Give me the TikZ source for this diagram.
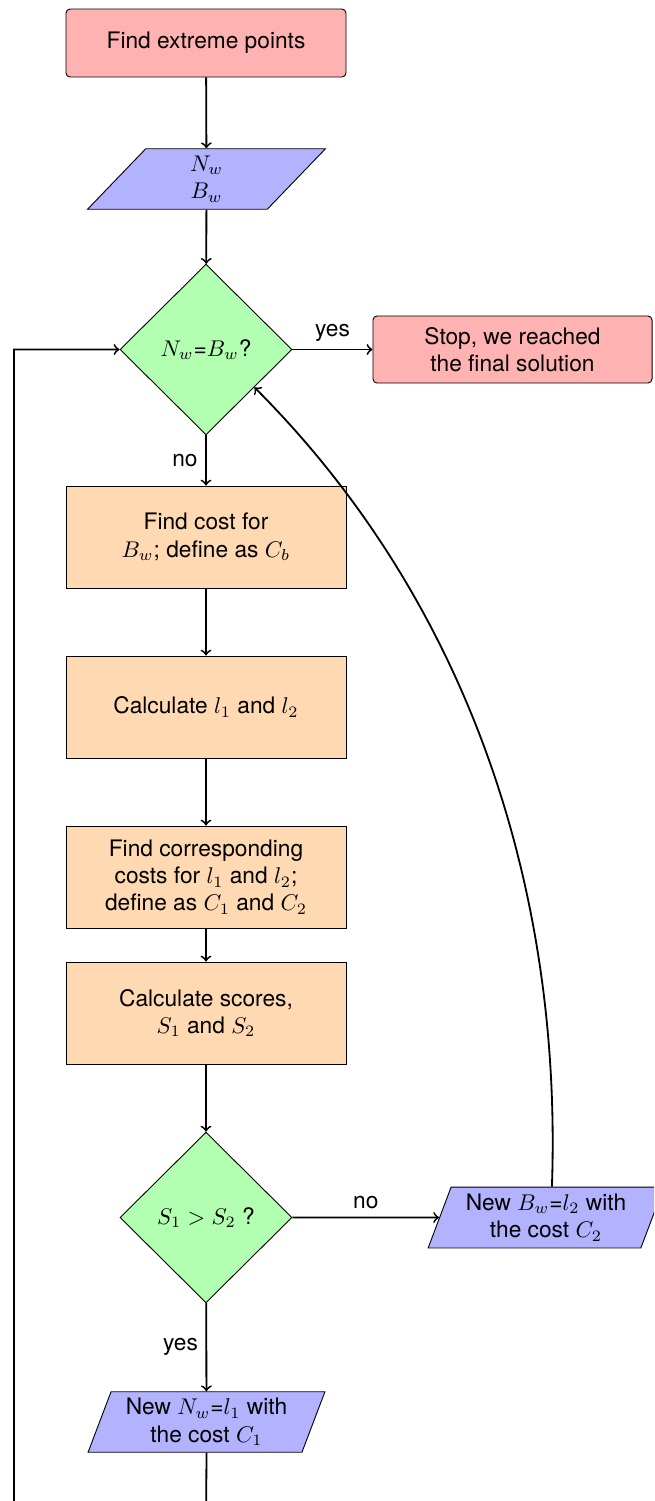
\documentclass[tikz,border=0pt]{standalone}
\usepackage[no-math]{fontspec}
\setmainfont{TeX Gyre Heros}
\usetikzlibrary{shapes.geometric,arrows}
\begin{document}
\begin{tikzpicture}[x=0.44pt,y=0.44pt,
  startstop/.style={rectangle, rounded corners=1.8pt, draw=black, fill=red!30,
     minimum width=123.2pt, minimum height=29.9pt, align=center, inner sep=0pt},
  process/.style={rectangle, draw=black, fill=orange!30,
     minimum width=123.2pt, minimum height=44.9pt, align=center, inner sep=0pt},
  io/.style={trapezium, trapezium left angle=70, trapezium right angle=110,
     trapezium stretches=true, draw=black, fill=blue!30,
     minimum width=104.7pt, minimum height=26.6pt, align=center, inner sep=2pt},
  decision/.style={diamond, aspect=1, draw=black, fill=green!30,
     minimum width=75.7pt, minimum height=75.1pt, inner sep=0pt, align=center},
  arrow/.style={thick, ->},
  lab/.style={font=\normalsize, inner sep=3.3pt}
]
\path[use as bounding box] (0,0) rectangle (654,-1501);
\clip (0,0) rectangle (654,-1501);

\node[startstop] (start) at (206,-43) {Find extreme points};
\node[io] (p1) at (206.5,-179) {$N_w$\\$B_w$};
\node[decision] (d1) at (206,-349.5) {$N_w$=$B_w$?};
\node[startstop, minimum width=122.8pt, minimum height=29.5pt] (stop) at (512.5,-349.5) {Stop, we reached\\the final solution};
\node[process] (b2) at (206,-537) {Find cost for\\$B_w$; define as $C_b$};
\node[process] (b3) at (206,-707) {Calculate $l_1$ and $l_2$};
\node[process] (b4) at (206,-877) {Find corresponding\\costs for $l_1$ and $l_2$;\\define as $C_1$ and $C_2$};
\node[process] (b5) at (206,-1013) {Calculate scores,\\$S_1$ and $S_2$};
\node[decision] (d2) at (206,-1217.5) {$S_1 > S_2$ ?};
\node[io, minimum height=26.8pt] (p2) at (546,-1217.5) {New $B_w$=$l_2$ with\\the cost $C_2$};
\node[io] (p3) at (206.5,-1422) {New $N_w$=$l_1$ with\\the cost $C_1$};

\coordinate (bot) at (206,-1530);
\coordinate (loopl) at (14,-1530);

\draw[arrow] (start) -- (p1);
\draw[arrow] (p1) -- (d1);
\draw[arrow] (d1) -- node[lab, above] {yes} (stop);
\draw[arrow] (d1) -- node[lab, left] {no} (b2);
\draw[arrow] (b2) -- (b3);
\draw[arrow] (b3) -- (b4);
\draw[arrow] (b4) -- (b5);
\draw[arrow] (b5) -- (d2);
\draw[arrow] (d2) -- node[lab, above] {no} (p2);
\draw[arrow] (d2) -- node[lab, left] {yes} (p3);
\draw[arrow] ([xshift=2.6pt]p2.north) to[out=88, in=-45, looseness=0.9] (d1.-38);
\draw[arrow] (p3.south) -- (bot) -- (loopl) |- (d1.west);
\end{tikzpicture}
\end{document}
